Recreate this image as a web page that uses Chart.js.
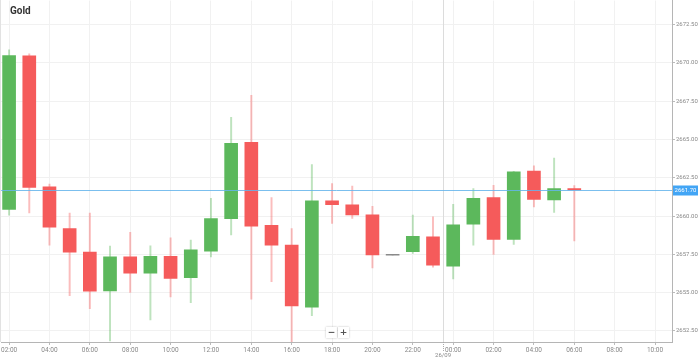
<!DOCTYPE html>
<html>
<head>
<meta charset="utf-8">
<script src="https://cdn.jsdelivr.net/npm/chart.js@4.4.1/dist/chart.umd.min.js"></script>
<style>
  html, body { margin: 0; padding: 0; background: #fff; overflow: hidden; }
  #wrap { position: relative; width: 698px; height: 361px; overflow: hidden; }
  canvas { position: absolute; left: 0; top: -4px; }
  #title { position: absolute; left: 10px; top: 5px; font: bold 10px Roboto, "Open Sans", sans-serif; color: #333; }
  .zbtn { position: absolute; top: 327px; width: 11px; height: 11px; background: #fff; box-shadow: 0 0 2px rgba(0,0,0,0.25);
          font: bold 9px "DejaVu Sans", sans-serif; color: #555; text-align: center; line-height: 11px; }
</style>
</head>
<body>
<div id="wrap">
  <canvas id="c" width="698" height="365"></canvas>
  <div id="title">Gold</div>
  <div class="zbtn" style="left:326px">−</div>
  <div class="zbtn" style="left:338px">+</div>
</div>
<script>
// Hourly candles, starting 25/09 02:00
const times = ['02:00','03:00','04:00','05:00','06:00','07:00','08:00','09:00','10:00','11:00','12:00','13:00','14:00','15:00','16:00','17:00','18:00','19:00','20:00','21:00','22:00','23:00','00:00','01:00','02:00','03:00','04:00','05:00','06:00'];
const openV  = [2660.43,2670.46,2661.90,2659.19,2657.65,2655.11,2657.34,2656.28,2657.37,2655.98,2657.71,2659.83,2664.81,2659.39,2658.10,2654.06,2660.99,2660.73,2660.08,2657.47,2657.67,2658.64,2656.73,2659.47,2661.21,2658.47,2662.94,2661.05,2661.80];
const highV  = [2670.85,2670.59,2662.08,2660.19,2660.19,2658.04,2658.93,2658.06,2658.58,2658.43,2661.16,2666.44,2667.87,2661.21,2659.19,2663.36,2662.12,2661.95,2660.64,2657.47,2660.06,2659.95,2660.77,2661.80,2662.01,2662.92,2663.27,2663.79,2661.99];
const lowV   = [2660.06,2660.21,2658.10,2654.80,2653.95,2651.85,2655.02,2653.22,2654.73,2654.34,2657.34,2658.77,2654.58,2655.71,2651.72,2653.50,2659.52,2659.84,2656.62,2657.47,2657.56,2656.67,2655.89,2658.10,2657.50,2658.15,2660.60,2660.23,2658.38];
const closeV = [2670.48,2661.86,2659.28,2657.65,2655.09,2657.34,2656.28,2657.37,2655.93,2657.80,2659.84,2664.75,2659.34,2658.10,2654.13,2660.99,2660.75,2660.08,2657.47,2657.47,2658.67,2656.80,2659.43,2661.16,2658.47,2662.88,2661.08,2661.80,2661.70];
const yTicks = [2652.5,2655,2657.5,2660,2662.5,2665,2667.5,2670,2672.5];
const xTickLabels = ['02:00','04:00','06:00','08:00','10:00','12:00','14:00','16:00','18:00','20:00','22:00','00:00','02:00','04:00','06:00','08:00','10:00'];
const dayLabel = '26/09';
const dayBreakAt = 21.5;     // hour offset of the day separator
const currentPrice = 2661.70;

const GREEN = '#5cb85c', RED = '#f55b5b', GREY = '#8a8a8a';
const GREEN_W = 'rgba(92,184,92,0.4)', RED_W = 'rgba(245,91,91,0.4)';

function colorOf(i, solid) {
  if (closeV[i] === openV[i]) return GREY;
  const up = closeV[i] > openV[i];
  return solid ? (up ? GREEN : RED) : (up ? GREEN_W : RED_W);
}

const bodies = times.map((t, i) => {
  const a = openV[i], b = closeV[i];
  return { x: i, y: a === b ? [a - 0.03, a + 0.03] : [a, b] };
});
const wicks = times.map((t, i) => ({ x: i, y: [lowV[i], highV[i]] }));

const overlay = {
  id: 'overlay',
  beforeDatasetsDraw(chart) {
    const { ctx, chartArea: ca, scales: { x } } = chart;
    ctx.save();
    const px = Math.round(x.getPixelForValue(dayBreakAt)) + 0.5;
    ctx.strokeStyle = '#dcdcdc';
    ctx.lineWidth = 1;
    ctx.beginPath(); ctx.moveTo(px, 0); ctx.lineTo(px, ca.bottom); ctx.stroke();
    // left border
    ctx.strokeStyle = '#e2e2e2';
    ctx.beginPath(); ctx.moveTo(0.5, 0); ctx.lineTo(0.5, ca.bottom); ctx.stroke();
    ctx.restore();
  },
  afterDraw(chart) {
    const { ctx, chartArea: ca, scales: { x, y } } = chart;
    ctx.save();
    const py = Math.round(y.getPixelForValue(currentPrice)) + 0.5;
    ctx.strokeStyle = 'rgba(100,180,235,0.85)';
    ctx.lineWidth = 1;
    ctx.beginPath(); ctx.moveTo(ca.left, py); ctx.lineTo(ca.right, py); ctx.stroke();
    // price badge
    ctx.fillStyle = '#42a5f5';
    ctx.fillRect(ca.right + 1, py - 5, 25, 10);
    ctx.fillStyle = '#fff';
    ctx.font = '6px Roboto';
    ctx.textAlign = 'center';
    ctx.textBaseline = 'middle';
    ctx.fillText(currentPrice.toFixed(2), ca.right + 13.5, py);
    // day label
    const px = x.getPixelForValue(dayBreakAt);
    ctx.fillStyle = '#888';
    ctx.fillText(dayLabel, px, 359);
    ctx.strokeStyle = '#aaa';
    ctx.setLineDash([1, 1]);
    ctx.beginPath(); ctx.moveTo(Math.round(px) + 0.5, ca.bottom); ctx.lineTo(Math.round(px) + 0.5, ca.bottom + 9); ctx.stroke();
    ctx.restore();
  }
};

new Chart(document.getElementById('c'), {
  type: 'bar',
  data: {
    datasets: [
      { label: 'body', data: bodies, backgroundColor: times.map((t, i) => colorOf(i, true)),
        borderWidth: 0, barThickness: 13, order: 1, grouped: false },
      { label: 'wick', data: wicks, backgroundColor: times.map((t, i) => colorOf(i, false)),
        borderWidth: 0, barThickness: 1.3, order: 2, grouped: false }
    ]
  },
  options: {
    responsive: false,
    animation: false,
    layout: { padding: 0 },
    plugins: { legend: { display: false }, tooltip: { enabled: false } },
    scales: {
      x: {
        type: 'linear',
        offset: false,
        min: -0.396, max: 32.84,
        afterBuildTicks(s) { s.ticks = xTickLabels.map((l, i) => ({ value: i * 2 })); },
        afterFit(s) { s.height = 19; },
        ticks: { autoSkip: false, maxRotation: 0, padding: 1, color: '#888',
                 font: { family: 'Roboto', size: 6.5 },
                 callback: (v, i) => xTickLabels[i] },
        grid: { color: '#f1f1f1', tickLength: 3, tickColor: '#bbb', offset: false },
        border: { color: '#b5b5b5' }
      },
      y: {
        position: 'right',
        min: 2651.78, max: 2674.06,
        afterBuildTicks(s) { s.ticks = yTicks.map(v => ({ value: v })); },
        afterFit(s) { s.width = 26; },
        ticks: { padding: 1, color: '#888', font: { family: 'Roboto', size: 6 },
                 callback: v => Number(v).toFixed(2) },
        grid: { color: '#f1f1f1', tickLength: 3, tickColor: '#bbb' },
        border: { color: '#b5b5b5' }
      }
    }
  },
  plugins: [overlay]
});
</script>
</body>
</html>
